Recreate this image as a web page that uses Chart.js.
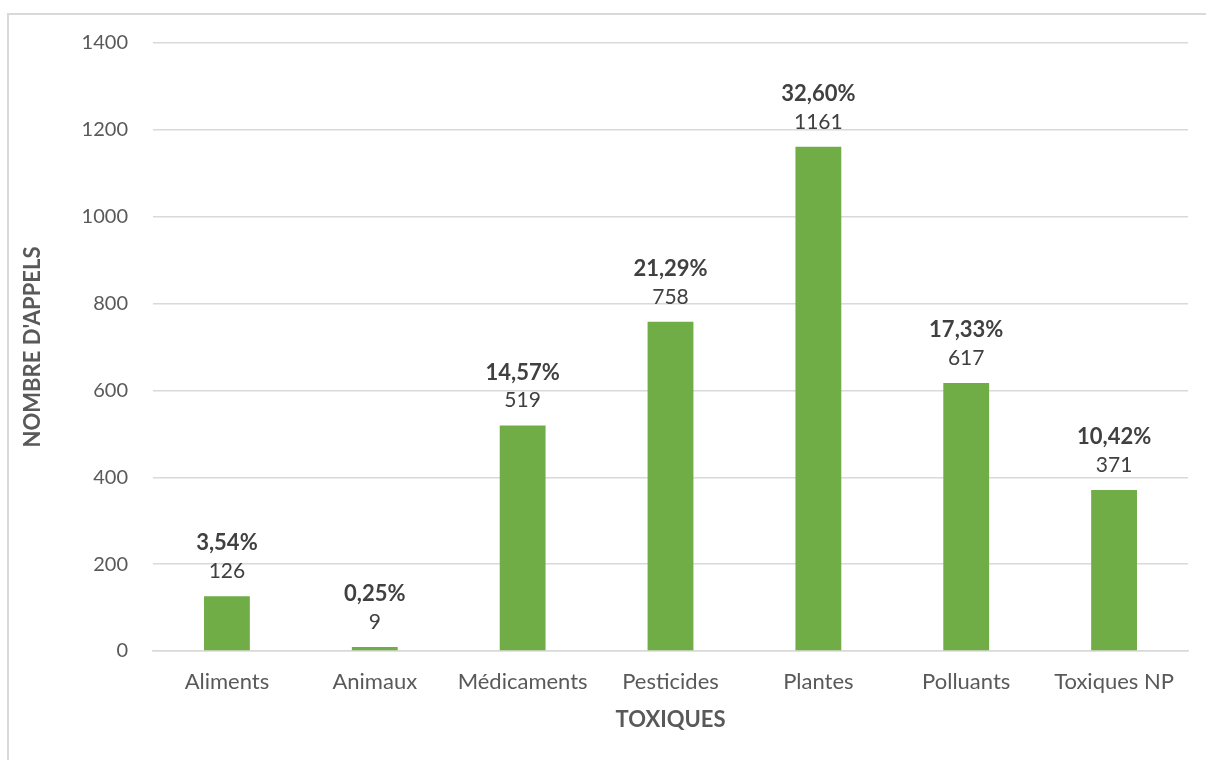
<!DOCTYPE html>
<html>
<head>
<meta charset="utf-8">
<script src="https://cdn.jsdelivr.net/npm/chart.js@4"></script>
<style>
  html, body { margin: 0; padding: 0; background: #fff; }
  #wrap { position: relative; width: 1206px; height: 760px; overflow: hidden; }
  #frame { position: absolute; left: 7px; top: 13px; width: 1300px; height: 900px;
           border-left: 2px solid #d9d9d9; border-top: 2px solid #d9d9d9; box-sizing: border-box; }
  canvas { position: absolute; left: 0; top: 0; }
</style>
</head>
<body>
<div id="wrap">
  <div id="frame"></div>
  <canvas id="chart" width="1206" height="760"></canvas>
</div>
<script>
// Données
const categories = ['Aliments', 'Animaux', 'Médicaments', 'Pesticides', 'Plantes', 'Polluants', 'Toxiques NP'];
const appels = [126, 9, 519, 758, 1161, 617, 371];
const pourcentages = ['3,54%', '0,25%', '14,57%', '21,29%', '32,60%', '17,33%', '10,42%'];

const FONT = 'Lato, "Open Sans", sans-serif';

// Étiquettes au-dessus des barres : pourcentage (gras) + valeur
const barLabels = {
  id: 'barLabels',
  afterDatasetsDraw(chart) {
    const ctx = chart.ctx;
    const meta = chart.getDatasetMeta(0);
    ctx.save();
    ctx.textAlign = 'center';
    ctx.textBaseline = 'middle';
    ctx.fillStyle = '#404040';
    meta.data.forEach((bar, i) => {
      ctx.font = 'bold 22px ' + FONT;
      ctx.fillText(pourcentages[i], bar.x, bar.y - 53);
      ctx.font = '21px ' + FONT;
      ctx.fillText(String(appels[i]), bar.x, bar.y - 25);
    });
    ctx.restore();
  }
};

new Chart(document.getElementById('chart'), {
  type: 'bar',
  data: {
    labels: categories,
    datasets: [{
      data: appels,
      backgroundColor: '#70ad47',
      borderWidth: 0,
      barPercentage: 1,
      categoryPercentage: 0.31
    }]
  },
  options: {
    responsive: false,
    animation: false,
    layout: { padding: { top: 43, right: 18, left: 0, bottom: 0 } },
    plugins: {
      legend: { display: false },
      tooltip: { enabled: false }
    },
    scales: {
      y: {
        min: 0,
        max: 1400,
        ticks: {
          stepSize: 200,
          padding: 25,
          color: '#595959',
          font: { family: FONT, size: 20 },
          callback: v => String(v)
        },
        grid: { color: '#d9d9d9', lineWidth: 1.5, drawTicks: false },
        border: { display: false },
        title: {
          display: true,
          text: "NOMBRE D'APPELS",
          color: '#595959',
          font: { family: FONT, size: 22, weight: 'bold' },
          padding: { top: 20, bottom: 0 }
        },
        afterFit(scale) { scale.width = 153; }
      },
      x: {
        ticks: {
          padding: 18,
          color: '#595959',
          font: { family: FONT, size: 22 },
          maxRotation: 0
        },
        grid: { display: false, drawTicks: false },
        border: { display: true, color: '#d9d9d9', width: 1.5 },
        title: {
          display: true,
          text: 'TOXIQUES',
          color: '#595959',
          font: { family: FONT, size: 22, weight: 'bold' },
          padding: { top: 0, bottom: 27 }
        },
        afterFit(scale) { scale.height = 109; }
      }
    }
  },
  plugins: [barLabels]
});
</script>
</body>
</html>
